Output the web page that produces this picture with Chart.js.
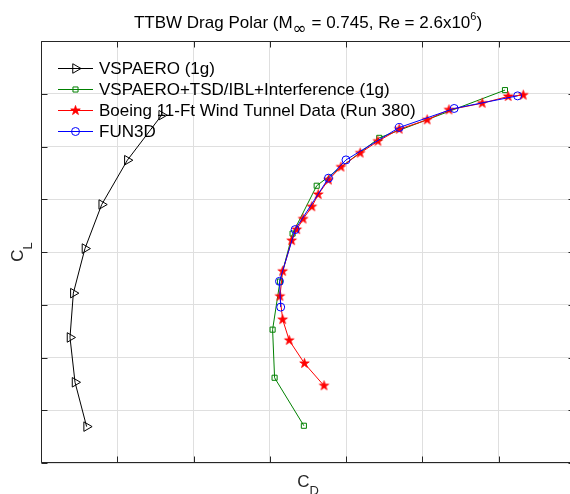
<!DOCTYPE html>
<html><head><meta charset="utf-8">
<style>
html,body{margin:0;padding:0;overflow:hidden;background:#fff;width:570px;height:494px}
#wrap{position:relative;width:600px;height:494px}
</style>
<script src="https://cdn.jsdelivr.net/npm/chart.js@4/dist/chart.umd.min.js"></script>
</head><body>
<div id="wrap"><canvas id="c" width="600" height="494"></canvas></div>
<script>
// ---- data ----
const titleMain = "TTBW Drag Polar (M";
const titleSub = "\u221E";
const titleMid = " = 0.745, Re = 2.6x10";
const titleSup = "6";
const titleEnd = ")";
const xLabel = ["C", "D"];
const yLabel = ["C", "L"];

const cdMin = 0.010, cdMax = 0.045, cdStep = 0.005;
const clMin = 0.0, clMax = 0.8, clStep = 0.1;

const seriesNames = [
  "VSPAERO (1g)",
  "VSPAERO+TSD/IBL+Interference (1g)",
  "Boeing 11-Ft Wind Tunnel Data (Run 380)",
  "FUN3D"
];

const vspCD = [0.01791, 0.01566, 0.01398, 0.01288, 0.01212, 0.01190, 0.01223, 0.01299];
const vspCL = [0.6594, 0.5740, 0.4900, 0.4065, 0.3220, 0.2380, 0.1530, 0.0690];

const tsdCD = [0.02723, 0.02531, 0.02518, 0.02566, 0.02649, 0.02807, 0.03217, 0.04041];
const tsdCL = [0.0706, 0.1616, 0.2528, 0.3439, 0.4349, 0.5256, 0.6164, 0.7069];

const wtCD = [0.02855, 0.02727, 0.02627, 0.02584, 0.02566, 0.02584, 0.02643, 0.02676, 0.02718, 0.02775,
              0.02817, 0.02884, 0.02966, 0.03092, 0.03208, 0.03348, 0.03531, 0.03674, 0.03892, 0.04062, 0.04161];
const wtCL = [0.1465, 0.1888, 0.2325, 0.2719, 0.3160, 0.3634, 0.4216, 0.4425, 0.4626, 0.4858,
              0.5091, 0.5366, 0.5611, 0.5876, 0.6100, 0.6329, 0.6505, 0.6695, 0.6821, 0.6949, 0.6974];

const cfdCD = [0.02571, 0.02563, 0.02666, 0.02884, 0.02999, 0.03348, 0.03708, 0.04124];
const cfdCL = [0.2956, 0.3444, 0.4425, 0.5399, 0.5746, 0.6360, 0.6721, 0.6960];

// ---- helpers ----
const FONT = "'Liberation Sans', Arial, Helvetica, sans-serif";
function pts(xs, ys){ return xs.map((x,i)=>({x:x, y:ys[i]})); }
function makeStar(R, color){
  const s = Math.ceil(R*2+3);
  const c = document.createElement('canvas'); c.width = s; c.height = s;
  const g = c.getContext('2d'); const cx = s/2, cy = s/2; const r = R*0.382;
  g.beginPath();
  for (let i=0;i<10;i++){ const a = -Math.PI/2 + i*Math.PI/5; const rr = (i%2)?r:R; g.lineTo(cx+rr*Math.cos(a), cy+rr*Math.sin(a)); }
  g.closePath(); g.fillStyle = color; g.fill(); g.strokeStyle = color; g.lineWidth = 0.8; g.stroke();
  return c;
}
const starImg = makeStar(5, '#ff0000');

function drawMarker(ctx, style, x, y, r, rot, stroke, fill){
  ctx.save();
  ctx.strokeStyle = stroke; ctx.fillStyle = fill; ctx.lineWidth = 1;
  if (style instanceof HTMLCanvasElement){
    ctx.drawImage(style, x - style.width/2, y - style.height/2);
  } else if (style === 'triangle'){
    let rad = (rot||0)*Math.PI/180;
    ctx.beginPath();
    for (let i=0;i<3;i++){ ctx.lineTo(x+Math.sin(rad)*r, y-Math.cos(rad)*r); rad += 2*Math.PI/3; }
    ctx.closePath(); ctx.fill(); ctx.stroke();
  } else if (style === 'rect'){
    const s = r*Math.SQRT1_2;
    ctx.beginPath(); ctx.rect(x-s, y-s, 2*s, 2*s); ctx.fill(); ctx.stroke();
  } else {
    ctx.beginPath(); ctx.arc(x, y, r, 0, Math.PI*2); ctx.fill(); ctx.stroke();
  }
  ctx.restore();
}

function richText(ctx, parts, cx, baseY){
  let w = 0;
  parts.forEach(p=>{ ctx.font = p.font; p.w = ctx.measureText(p.t).width; w += p.w + (p.gap||0); });
  let x = cx - w/2;
  ctx.textAlign = 'left'; ctx.textBaseline = 'alphabetic';
  parts.forEach(p=>{ ctx.font = p.font; ctx.fillText(p.t, x, baseY + (p.dy||0)); x += p.w + (p.gap||0); });
}

const frameColor = '#262626';

const decor = {
  id: 'decor',
  afterDraw(chart){
    const ctx = chart.ctx; const a = chart.chartArea;
    const xs = chart.scales.x, ys = chart.scales.y;
    ctx.save();
    // frame
    ctx.strokeStyle = frameColor; ctx.lineWidth = 1;
    const L = Math.round(a.left)+0.5, R = Math.round(a.right)-0.5, T = Math.round(a.top)+0.5, B = Math.round(a.bottom)-0.5;
    ctx.beginPath(); ctx.rect(L, T, R-L, B-T); ctx.stroke();
    // ticks (inward, all four sides)
    const tl = 6;
    ctx.beginPath();
    xs.ticks.forEach(t=>{
      const px = Math.round(xs.getPixelForValue(t.value))+0.5;
      ctx.moveTo(px, B); ctx.lineTo(px, B-tl);
      ctx.moveTo(px, T); ctx.lineTo(px, T+tl);
    });
    ys.ticks.forEach(t=>{
      const py = Math.round(ys.getPixelForValue(t.value))+0.5;
      ctx.moveTo(L, py); ctx.lineTo(L+tl, py);
      ctx.moveTo(R, py); ctx.lineTo(R-tl, py);
    });
    ctx.stroke();

    // legend (inside, top-left)
    const lx0 = 58, lx1 = 93, tx = 99, y0 = 68.5, dy = 21;
    const sets = chart.data.datasets;
    ctx.textBaseline = 'middle'; ctx.textAlign = 'left';
    sets.forEach((ds, i)=>{
      const y = y0 + dy*i;
      ctx.strokeStyle = ds.borderColor; ctx.lineWidth = ds.borderWidth;
      ctx.beginPath(); ctx.moveTo(lx0, y); ctx.lineTo(lx1, y); ctx.stroke();
      drawMarker(ctx, ds.pointStyle, (lx0+lx1)/2, y, ds.pointRadius, ds.pointRotation, ds.pointBorderColor, ds.legendFill);
      ctx.fillStyle = '#000'; ctx.font = '17px ' + FONT;
      ctx.fillText(ds.label, tx, y + 1);
    });

    // title
    ctx.fillStyle = '#000';
    const cx = (a.left + a.right)/2;
    richText(ctx, [
      {t: titleMain, font: '17px ' + FONT},
      {t: titleSub, font: '17px "DejaVu Sans", ' + FONT, dy: 6},
      {t: titleMid, font: '17px ' + FONT},
      {t: titleSup, font: '11px ' + FONT, dy: -7.5},
      {t: titleEnd, font: '17px ' + FONT}
    ], cx, 27.5);

    // x label
    ctx.fillStyle = frameColor;
    richText(ctx, [
      {t: xLabel[0], font: '17px ' + FONT},
      {t: xLabel[1], font: '13px ' + FONT, dy: 8.5}
    ], cx, 486.5);

    // y label (rotated)
    ctx.save();
    ctx.translate(23.3, (a.top + a.bottom)/2);
    ctx.rotate(-Math.PI/2);
    richText(ctx, [
      {t: yLabel[0], font: '17px ' + FONT},
      {t: yLabel[1], font: '13px ' + FONT, dy: 8.5}
    ], 0, 0);
    ctx.restore();
    ctx.restore();
  }
};

const base = {fill:false, tension:0, borderWidth:1, showLine:true, pointBorderWidth:1, pointHoverRadius:0};

new Chart(document.getElementById('c'), {
  type: 'line',
  data: {
    datasets: [
      Object.assign({}, base, {label: seriesNames[0], data: pts(vspCD, vspCL), order: 4,
        borderColor:'#000000', pointBorderColor:'#000000', pointBackgroundColor:'rgba(0,0,0,0)', legendFill:'rgba(0,0,0,0)',
        pointStyle:'triangle', pointRotation:90, pointRadius:5.5}),
      Object.assign({}, base, {label: seriesNames[1], data: pts(tsdCD, tsdCL), order: 3,
        borderColor:'#008000', pointBorderColor:'#008000', pointBackgroundColor:'rgba(0,0,0,0)', legendFill:'rgba(0,0,0,0)',
        pointStyle:'rect', pointRotation:0, pointRadius:3.6}),
      Object.assign({}, base, {label: seriesNames[2], data: pts(wtCD, wtCL), order: 2,
        borderColor:'#ff0000', pointBorderColor:'#ff0000', pointBackgroundColor:'#ff0000', legendFill:'#ff0000',
        pointStyle: starImg, pointRotation:0, pointRadius:5}),
      Object.assign({}, base, {label: seriesNames[3], data: pts(cfdCD, cfdCL), order: 1,
        borderColor:'#0000ff', pointBorderColor:'#0000ff', pointBackgroundColor:'rgba(0,0,0,0)', legendFill:'rgba(0,0,0,0)',
        pointStyle:'circle', pointRotation:0, pointRadius:4})
    ]
  },
  options: {
    responsive: false,
    devicePixelRatio: 1,
    animation: false,
    events: [],
    layout: {padding: {left:41, top:41, right:25, bottom:31}},
    plugins: {legend: {display:false}, title: {display:false}, tooltip: {enabled:false}},
    scales: {
      x: {type:'linear', min:cdMin, max:cdMax,
          ticks:{display:false, stepSize:cdStep},
          grid:{color:'#dfdfdf', lineWidth:1, drawTicks:false},
          border:{display:false},
          afterFit(s){ s.height = 0; }},
      y: {type:'linear', min:clMin, max:clMax,
          ticks:{display:false, stepSize:clStep},
          grid:{color:'#dfdfdf', lineWidth:1, drawTicks:false},
          border:{display:false},
          afterFit(s){ s.width = 0; }}
    }
  },
  plugins: [decor]
});
</script>
</body></html>
